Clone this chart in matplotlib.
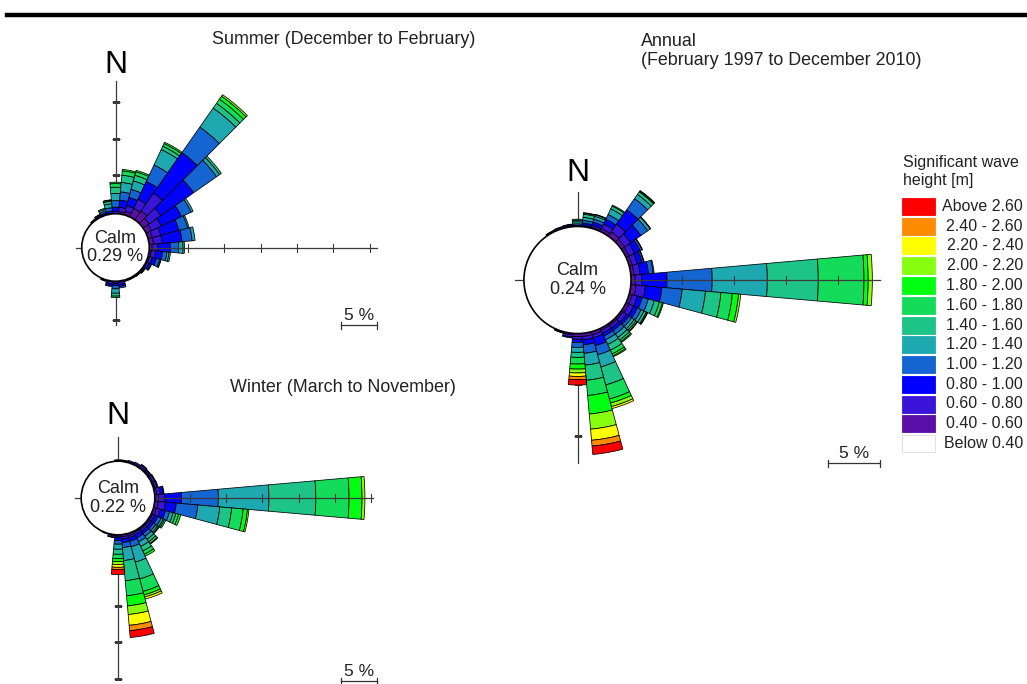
import numpy as np
import matplotlib
matplotlib.use('Agg')
import matplotlib.pyplot as plt
from matplotlib.patches import Rectangle, Circle
from matplotlib.lines import Line2D

plt.rcParams['font.family'] = ['Liberation Sans', 'DejaVu Sans']

# ---------------- data ----------------
CLASS_LABELS = ['Below 0.40', '0.40 - 0.60', '0.60 - 0.80', '0.80 - 1.00',
                '1.00 - 1.20', '1.20 - 1.40', '1.40 - 1.60', '1.60 - 1.80',
                '1.80 - 2.00', '2.00 - 2.20', '2.20 - 2.40', '2.40 - 2.60',
                'Above 2.60']
CLASS_COLORS = ['#FFFFFF', '#5A10A8', '#3A14D8', '#0000FF', '#1464D2',
                '#1EA8B0', '#1EC487', '#14DC5A', '#00FF10', '#88FF10',
                '#FFFF00', '#FF8C00', '#FF0000']

# frequency (%) per direction (deg, clockwise from N), one value per class
SUMMER = {
    0:   [0, 0, .3, .6, .9, 1.0, .85, .5, .2],
    10:  [0, .3, .6, 1.0, 1.15, 1.3, 1.0, .6, .2],
    20:  [0, .5, .8, 1.2, 1.15, 1.2, .8, .5, .2],
    30:  [0, 1.3, 1.4, 2.7, 2.5, 2.35, .5, .4, .2],
    40:  [0, 1.5, 3.0, 6.8, 4.3, 3.2, .8, .7, .5, .25],
    50:  [0, 1.0, 2.0, 5.5, 3.85, .5, .3],
    60:  [0, .8, 1.5, 3.1, 1.45, .3],
    70:  [0, .6, 1.2, 2.6, 1.25, .2],
    80:  [0, .6, 1.2, 2.75, 1.4, .4],
    90:  [0, .4, .8, 1.7, 1.15, .6, .2],
    100: [0, .3, .6, .95, .6, .3, .2],
    110: [0, .2, .4, .6, .45, .15, .05],
    120: [0, .15, .3, .3, .1],
    130: [0, .15, .15, .1],
    140: [0, .15, .1],
    150: [0, .1, .1],
    160: [0, .1, .1],
    170: [0, .15, .3, .3, .2],
    180: [0, .1, .2, .3, .45, .6, .4, .2],
    190: [0, .1, .25, .25, .15],
    200: [0, .1, .1],
    320: [0, .1, .1],
    330: [0, .1, .2, .1],
    340: [0, 0, .1, .2, .25, .25, .15],
    350: [0, 0, .1, .3, .45, .55, .35, .15, .05],
}
WINTER = {
    0:   [0, .1, .1],
    10:  [0, .1, .1],
    20:  [0, .15, .15],
    30:  [0, .2, .2],
    40:  [0, .25, .25, .1],
    50:  [0, .2, .2, .1],
    60:  [0, .2, .3, .1],
    70:  [0, .2, .3, .15],
    80:  [0, .3, .5, .4, .1],
    90:  [0, .5, .9, 2.3, 5.1, 7.0, 6.5, 4.6, 1.8, .4],
    100: [0, .5, 1.0, 1.5, 3.0, 3.05, 1.65, 1.6, .6, .2],
    110: [0, .4, .6, .7, .6, .5, .4, .4, .3],
    120: [0, .2, .3, .5, .5, .3, .2, .2],
    130: [0, .2, .3, .4, .4, .3, .2, .1],
    140: [0, .2, .3, .4, .5, .5, .4, .3, .1],
    150: [0, .2, .3, .5, .6, .7, .7, .5, .3],
    160: [0, .3, .3, .5, .8, 2.2, 2.4, 1.8, .5, .3, .3],
    170: [0, .3, .3, .5, .7, 1.8, 2.8, 2.1, 1.4, 1.2, 1.5, .75, .95],
    180: [0, .2, .2, .4, .5, .7, .7, .6, .4, .4, .4, .3, .7],
    190: [0, .15, .2, .05],
    200: [0, .1],
}
ANNUAL = {
    0:   [0, 0, 0, .1, .15, .2, .15, .1],
    10:  [0, 0, .15, .2, .25, .3, .3, .1, .05],
    20:  [0, .1, .2, .3, .3, .3, .15, .05],
    30:  [0, .3, .5, .5, .5, .6, .3, .1],
    40:  [0, .5, .9, 1.7, 1.3, .5, .3, .1, .05],
    50:  [0, .4, .7, 1.2, .8, .3, .05],
    60:  [0, .3, .6, .6, .2, .05],
    70:  [0, .3, .5, .5, .15, .05],
    80:  [0, .3, .6, .8, .45, .1],
    90:  [0, .4, .65, 2.41, 4.34, 5.3, 4.9, 4.4, .4, .4],
    100: [0, .5, .9, 1.6, 1.95, 2.25, 1.5, 1.1, .6, .2],
    110: [0, .3, .5, .5, .6, .6, .5, .3, .1],
    120: [0, .3, .5, .4, .4, .3, .25, .1, .05],
    130: [0, .2, .4, .3, .3, .3, .2, .15, .05],
    140: [0, .2, .3, .3, .4, .4, .3, .2, .1],
    150: [0, .2, .3, .3, .4, .5, .6, .4, .2, .1],
    160: [0, .3, .3, .8, .9, 1.2, 1.8, 1.4, .4, .35, .2],
    170: [0, .3, .33, .48, .82, 1.14, 1.46, 1.47, 1.79, 1.46, 1.07, .56, .81],
    180: [0, .3, .25, .3, .48, .48, .48, .64, .49, .37, .33, .32, .51],
    190: [0, .15, .2, .1],
    200: [0, .1, .05],
    330: [0, .1, .05],
    340: [0, .1, .1],
    350: [0, 0, .1, .1, .05],
}
CALM_SUMMER = 0.29
CALM_WINTER = 0.22
CALM_ANNUAL = 0.24

TITLE_SUMMER = 'Summer (December to February)'
TITLE_WINTER = 'Winter (March to November)'
TITLE_ANNUAL = 'Annual\n(February 1997 to December 2010)'
LEGEND_TITLE = 'Significant wave\nheight [m]'

# ---------------- layout ----------------
W, H = 1027, 684
fig = plt.figure(figsize=(W / 100, H / 100), dpi=100)
fig.patch.set_facecolor('white')


def fx(x):
    return x / W


def fy(y):
    return 1 - y / H


def rose_axes(cx, cy, ppp, rmax):
    R = rmax * ppp
    ax = fig.add_axes([(cx - R) / W, 1 - (cy + R) / H, 2 * R / W, 2 * R / H],
                      projection='polar')
    ax.set_theta_zero_location('N')
    ax.set_theta_direction(-1)
    ax.set_ylim(0, rmax)
    ax.set_axis_off()
    ax.patch.set_alpha(0)
    return ax


def draw_rose(ax, freq, r0, calm, arms, ticks, n_r):
    width = np.deg2rad(10)
    for d, vals in freq.items():
        th = np.deg2rad(d)
        bottom = r0
        for k, v in enumerate(vals):
            if v <= 0:
                continue
            ax.bar(th, v, width=width, bottom=bottom, color=CLASS_COLORS[k],
                   edgecolor='black', linewidth=0.55, zorder=2, align='center')
            bottom += v
    lc = '#3a3a3a'
    # north / south axis (beneath bars), east / west axis (above bars)
    ax.plot([0, 0], [0, arms['N']], color=lc, lw=0.9, zorder=0.5)
    ax.plot([np.pi, np.pi], [0, arms['S']], color=lc, lw=0.9, zorder=0.5)
    ax.plot([np.pi / 2, np.pi / 2], [0, arms['E']], color=lc, lw=0.9, zorder=3)
    ax.plot([1.5 * np.pi, 1.5 * np.pi], [0, arms['W']], color=lc, lw=0.9, zorder=3)
    for key, th, mk, z in (('N', 0, '_', 0.5), ('S', np.pi, '_', 0.5),
                           ('E', np.pi / 2, '|', 3)):
        tv = ticks.get(key, [])
        if tv:
            ax.plot([th] * len(tv), tv, ls='none', marker=mk, ms=6,
                    mew=0.8, color=lc, zorder=z)
    rmax = ax.get_ylim()[1]
    ax.add_patch(Circle((0.5, 0.5), r0 / rmax / 2, transform=ax.transAxes,
                        facecolor='white', edgecolor='black', lw=1.2,
                        zorder=4, clip_on=False))
    ax.text(0, 0, 'Calm\n%.2f %%' % calm, ha='center', va='center',
            fontsize=13, color='#222222', zorder=5, linespacing=1.15)
    ax.text(0, n_r, 'N', ha='center', va='center', fontsize=23, zorder=5)


def scale_bar(ax, x0, y):
    p0 = ax.transData.transform((np.pi / 2, 0))
    p1 = ax.transData.transform((np.pi / 2, 5))
    L = p1[0] - p0[0]
    kw = dict(color='#333333', lw=0.9)
    fig.add_artist(Line2D([fx(x0), fx(x0 + L)], [fy(y), fy(y)], **kw))
    fig.add_artist(Line2D([fx(x0), fx(x0)], [fy(y - 3), fy(y + 4)], **kw))
    fig.add_artist(Line2D([fx(x0 + L), fx(x0 + L)], [fy(y - 3), fy(y + 4)], **kw))
    fig.text(fx(x0 + L / 2), fy(y - 2), '5 %', ha='center', va='bottom',
             fontsize=12.5, color='#222222')


# summer rose
ax_s = rose_axes(115.5, 247.5, 7.26, 37)
draw_rose(ax_s, SUMMER, 4.65, CALM_SUMMER,
          arms={'N': 23, 'S': 10.7, 'E': 36, 'W': 5.4},
          ticks={'N': [10, 15, 20], 'S': [10], 'E': [10, 15, 20, 25, 30, 35]},
          n_r=25.2)
scale_bar(ax_s, 341, 325)

# winter rose
ax_w = rose_axes(118, 498, 7.22, 37)
draw_rose(ax_w, WINTER, 5.1, CALM_WINTER,
          arms={'N': 8.5, 'S': 25, 'E': 35.3, 'W': 5.9},
          ticks={'N': [], 'S': [10, 15, 20, 25], 'E': [10, 15, 20, 25, 30, 35]},
          n_r=11.4)
scale_bar(ax_w, 341, 681)

# annual rose
ax_a = rose_axes(577.5, 280, 10.4, 30)
draw_rose(ax_a, ANNUAL, 5.15, CALM_ANNUAL,
          arms={'N': 8.5, 'S': 17.6, 'E': 29.1, 'W': 6.0},
          ticks={'N': [], 'S': [10, 15], 'E': [10, 15, 20, 25]},
          n_r=10.3)
scale_bar(ax_a, 828, 463)

# titles
fig.text(fx(212), fy(40), TITLE_SUMMER, ha='left', va='center', fontsize=12.9,
         color='#222222')
fig.text(fx(230), fy(388), TITLE_WINTER, ha='left', va='center', fontsize=12.9,
         color='#222222')
fig.text(fx(641), fy(51), TITLE_ANNUAL, ha='left', va='center', fontsize=12.9,
         color='#222222', linespacing=1.2)

# top rule
fig.add_artist(Line2D([fx(7), fx(1027)], [fy(15), fy(15)], color='black', lw=3.2))

# legend
fig.text(fx(903), fy(172), LEGEND_TITLE, ha='left', va='center', fontsize=11.5,
         color='#222222', linespacing=1.25)
for i, k in enumerate(range(len(CLASS_LABELS) - 1, -1, -1)):
    y0 = 198 + 19.75 * i
    fig.add_artist(Rectangle((fx(902), fy(y0 + 17)), 33 / W, 17 / H,
                             transform=fig.transFigure,
                             facecolor=CLASS_COLORS[k],
                             edgecolor='#dddddd' if k == 0 else CLASS_COLORS[k],
                             lw=0.6))
    fig.text(fx(1023), fy(y0 + 8.5), CLASS_LABELS[k], ha='right', va='center',
             fontsize=11.5, color='#222222')

fig.savefig('out.png', dpi=100, facecolor='white')
